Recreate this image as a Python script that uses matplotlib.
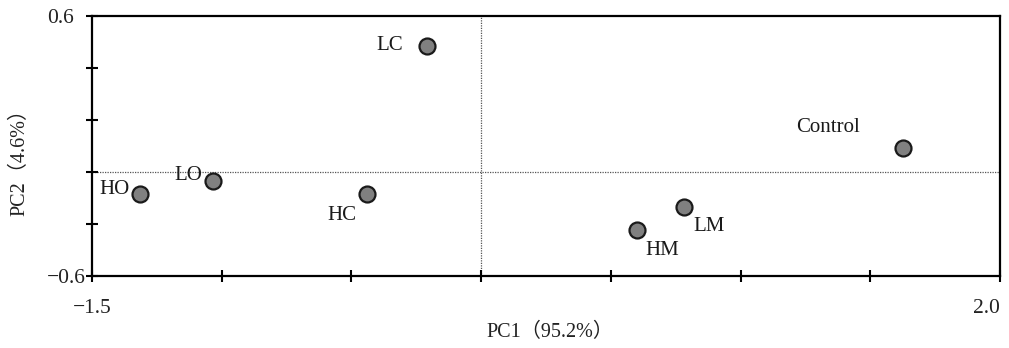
import matplotlib.pyplot as plt

# PCA scores of the samples
names = ["HO", "LO", "HC", "LC", "HM", "LM", "Control"]
pc1 = [-1.315, -1.035, -0.441, -0.209, 0.602, 0.782, 1.627]
pc2 = [-0.222, -0.162, -0.220, 0.462, -0.388, -0.280, -0.011]

# label offsets (pixels) and alignment for each name
offs = {"HO": (-10, 5, "right"), "LO": (-10, 6, "right"), "HC": (-10, -22, "right"),
        "LC": (-24, 0, "right"), "HM": (8, -20, "left"), "LM": (9, -20, "left"),
        "Control": (-43, 21, "right")}

serif = ["Liberation Serif", "Noto Sans CJK SC"]

fig = plt.figure(figsize=(10.09, 3.48), dpi=100)
ax = fig.add_axes([92/1009, 1-276/348, 908/1009, 260/348])

ax.axvline(0, color="#555555", lw=0.9, ls=(0, (1, 1)), zorder=1)
ax.axhline(-0.12, color="#555555", lw=0.9, ls=(0, (1, 1)), zorder=1)

ax.plot(pc1, pc2, "o", ms=11.5, mfc="#808080", mec="#1a1a1a", mew=1.6, zorder=3)
for n, x, y in zip(names, pc1, pc2):
    dx, dy, ha = offs[n]
    ax.annotate(n, (x, y), xytext=(dx*0.72, dy*0.72), textcoords="offset points",
                ha=ha, va="center", fontsize=15, family=serif, color="#1a1a1a")

ax.set_xlim(-1.5, 2.0)
ax.set_ylim(-0.6, 0.6)
ax.set_xticks([-1.5, -1.0, -0.5, 0, 0.5, 1.0, 1.5, 2.0])
ax.set_xticklabels(["\u22121.5", "", "", "", "", "", "", "2.0"])
ax.set_yticks([-0.6, -0.36, -0.12, 0.12, 0.36, 0.6])
ax.set_yticklabels(["\u22120.6", "", "", "", "", "0.6"])
for lab in ax.get_yticklabels():
    lab.set_horizontalalignment("left")
ax.get_xticklabels()[-1].set_horizontalalignment("right")
for lab in ax.get_xticklabels() + ax.get_yticklabels():
    lab.set_family(serif)
    lab.set_fontsize(15.5)
    lab.set_color("#222222")

ax.tick_params(axis="x", direction="inout", length=9, width=1.5, pad=12)
ax.tick_params(axis="y", direction="inout", length=9, width=1.5, pad=28)
for s in ax.spines.values():
    s.set_linewidth(1.6)

fig.text(550/1009, 1-332/348, "PC1（95.2%）", ha="center", va="center",
         fontsize=14.5, family=serif, color="#222222")
fig.text(20/1009, 1-157/348, "PC2（4.6%）", ha="center", va="center", rotation=90,
         fontsize=14.5, family=serif, color="#222222")

fig.savefig("out.png", dpi=100)
